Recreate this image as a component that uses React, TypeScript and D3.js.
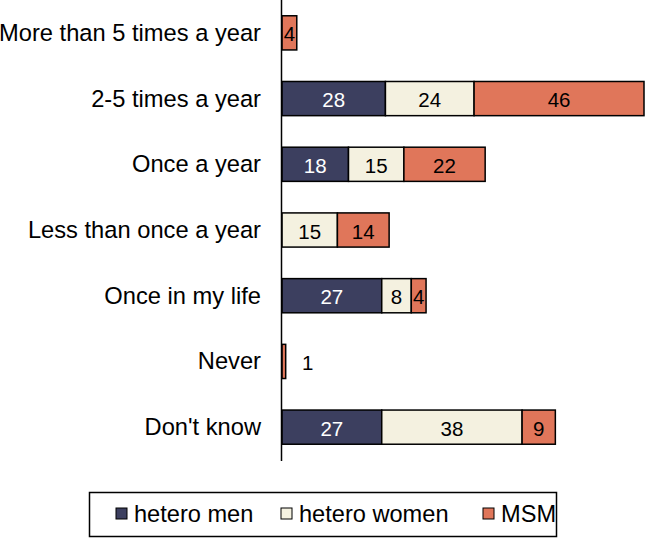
import React from "react";
import * as d3 from "d3";

const categories = [
  "More than 5 times a year",
  "2-5 times a year",
  "Once a year",
  "Less than once a year",
  "Once in my life",
  "Never",
  "Don't know",
];
const seriesNames = ["hetero men", "hetero women", "MSM"];
const heteroMen = [0, 28, 18, 0, 27, 0, 27];
const heteroWomen = [0, 24, 15, 15, 8, 0, 38];
const msm = [4, 46, 22, 14, 4, 1, 9];
const colors = ["#3c3f5f", "#f4f1e0", "#e0765a"];
const textColors = ["#ffffff", "#000000", "#000000"];

const W = 646;
const H = 538;
const FONT = "'Liberation Sans', Arial, Helvetica, sans-serif";

export default function App() {
  const series = [heteroMen, heteroWomen, msm];
  const totals = categories.map((_, i) => series.reduce((s, arr) => s + arr[i], 0));
  const maxTotal = d3.max(totals) as number;

  const x = d3.scaleLinear().domain([0, maxTotal]).range([282, 644]);
  const y = d3
    .scaleBand<string>()
    .domain(categories)
    .range([0, 460])
    .paddingInner(0.48)
    .paddingOuter(0.24);

  const rows = categories.map((c, i) => {
    let acc = 0;
    const segs = series.map((arr, k) => {
      const x0 = acc;
      acc += arr[i];
      return { k, v: arr[i], x0, x1: acc };
    });
    return { c, segs };
  });

  const legendX = [116, 281, 483];

  return (
    <svg
      width={W}
      height={H}
      style={{ position: "absolute", left: 0, top: 0, background: "#fff" }}
      fontFamily={FONT}
    >
      {rows.map((r) => {
        const yc = (y(r.c) as number) + y.bandwidth() / 2;
        return (
          <g key={r.c}>
            <text x={261} y={yc} textAnchor="end" dominantBaseline="central" fontSize={23.7} fill="#000">
              {r.c}
            </text>
            {r.segs
              .filter((s) => s.v > 0)
              .map((s) => {
                const xa = x(s.x0);
                const xb = x(s.x1);
                const wd = xb - xa;
                const inside = wd >= 10;
                return (
                  <g key={s.k}>
                    <rect
                      x={xa}
                      y={y(r.c) as number}
                      width={wd}
                      height={y.bandwidth()}
                      fill={colors[s.k]}
                      stroke="#000"
                      strokeWidth={1.5}
                    />
                    <text
                      x={inside ? (xa + xb) / 2 : xb + 22}
                      y={yc + 1}
                      textAnchor="middle"
                      dominantBaseline="central"
                      fontSize={20.5}
                      fill={inside ? textColors[s.k] : "#000"}
                    >
                      {s.v}
                    </text>
                  </g>
                );
              })}
          </g>
        );
      })}
      <line x1={281.5} x2={281.5} y1={0} y2={461} stroke="#000" strokeWidth={1.5} />

      <rect x={89.5} y={492.5} width={467} height={44} fill="#fff" stroke="#000" strokeWidth={1.5} />
      {seriesNames.map((n, k) => (
        <g key={n}>
          <rect x={legendX[k]} y={508} width={11} height={11} fill={colors[k]} stroke="#000" strokeWidth={1} />
          <text x={legendX[k] + 18} y={514} dominantBaseline="central" fontSize={23.6} fill="#000">
            {n}
          </text>
        </g>
      ))}
    </svg>
  );
}
